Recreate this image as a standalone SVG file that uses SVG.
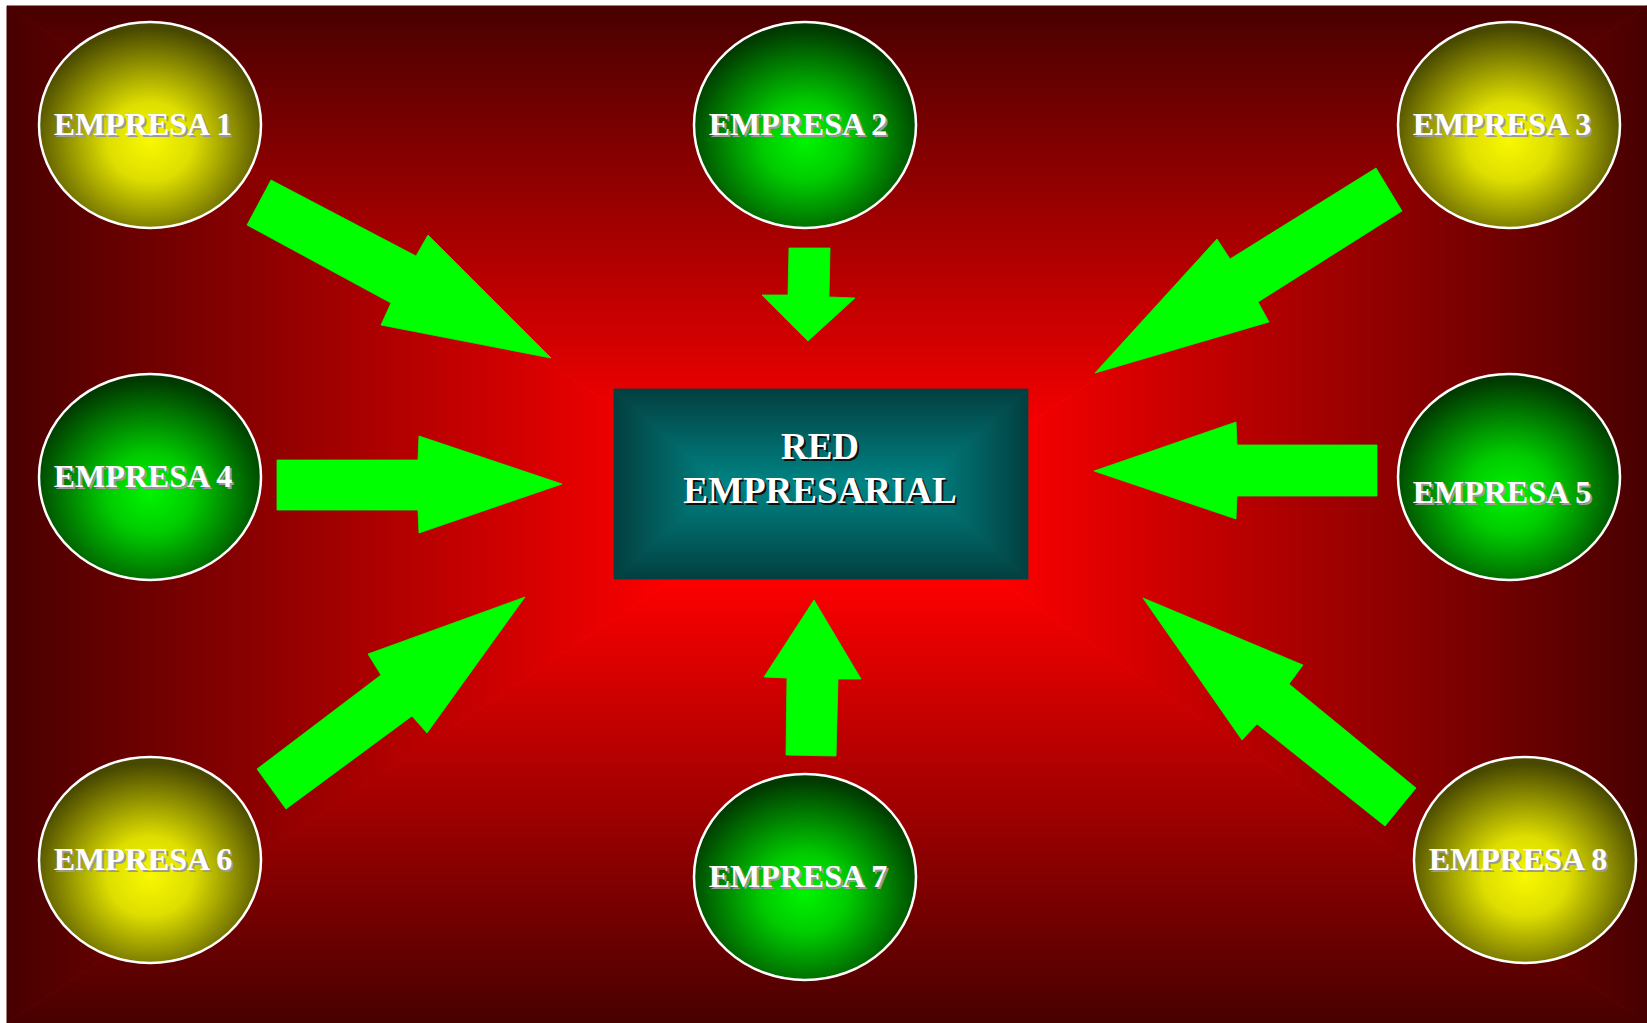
<svg xmlns="http://www.w3.org/2000/svg" width="1647" height="1023" viewBox="0 0 1647 1023">
  <defs>
    <!-- background: rectangular path gradient built from four wedges around a bright core -->
    <linearGradient id="bgL" gradientUnits="userSpaceOnUse" x1="680" y1="0" x2="7" y2="0">
      <stop offset="0" stop-color="#ff0000"/><stop offset="1" stop-color="#480000"/>
    </linearGradient>
    <linearGradient id="bgR" gradientUnits="userSpaceOnUse" x1="990" y1="0" x2="1647" y2="0">
      <stop offset="0" stop-color="#ff0000"/><stop offset="1" stop-color="#480000"/>
    </linearGradient>
    <linearGradient id="bgT" gradientUnits="userSpaceOnUse" x1="0" y1="450" x2="0" y2="6">
      <stop offset="0" stop-color="#ff0000"/><stop offset="1" stop-color="#480000"/>
    </linearGradient>
    <linearGradient id="bgB" gradientUnits="userSpaceOnUse" x1="0" y1="575" x2="0" y2="1023">
      <stop offset="0" stop-color="#ff0000"/><stop offset="1" stop-color="#480000"/>
    </linearGradient>

    <!-- central box: teal rectangular gradient -->
    <linearGradient id="tlL" gradientUnits="userSpaceOnUse" x1="720" y1="0" x2="614" y2="0">
      <stop offset="0" stop-color="#008484"/><stop offset="1" stop-color="#033f40"/>
    </linearGradient>
    <linearGradient id="tlR" gradientUnits="userSpaceOnUse" x1="922" y1="0" x2="1028" y2="0">
      <stop offset="0" stop-color="#008484"/><stop offset="1" stop-color="#033f40"/>
    </linearGradient>
    <linearGradient id="tlT" gradientUnits="userSpaceOnUse" x1="0" y1="484" x2="0" y2="389">
      <stop offset="0" stop-color="#008484"/><stop offset="1" stop-color="#033f40"/>
    </linearGradient>
    <linearGradient id="tlB" gradientUnits="userSpaceOnUse" x1="0" y1="484" x2="0" y2="579">
      <stop offset="0" stop-color="#008484"/><stop offset="1" stop-color="#033f40"/>
    </linearGradient>

    <radialGradient id="yellowBall" cx="0.5" cy="0.58" r="0.55">
      <stop offset="0" stop-color="#f8f800"/>
      <stop offset="0.35" stop-color="#dede00"/>
      <stop offset="1" stop-color="#484800"/>
    </radialGradient>
    <radialGradient id="greenBall" cx="0.5" cy="0.58" r="0.55">
      <stop offset="0" stop-color="#00f400"/>
      <stop offset="0.35" stop-color="#00cc00"/>
      <stop offset="1" stop-color="#003a00"/>
    </radialGradient>

    <style>
      .ball { stroke: #ffffff; stroke-width: 2.5; }
      .yel { fill: url(#yellowBall); }
      .grn { fill: url(#greenBall); }
      .lbl { font-family: "Liberation Serif", "Times New Roman", serif; font-weight: bold; font-size: 32px; text-anchor: middle; }
      .lbl-sh { fill: #9a9a9a; }
      .lbl-fg { fill: #ffffff; }
      .ttl { font-family: "Liberation Serif", "Times New Roman", serif; font-weight: bold; font-size: 37px; text-anchor: middle; }
      .ttl-sh { fill: #101010; }
      .ttl-fg { fill: #ffffff; }
      .arrow { fill: #00ff00; stroke: #00ff00; stroke-width: 0.8; stroke-linejoin: round; }
    </style>
  </defs>

  <rect x="0" y="0" width="1647" height="1023" fill="#ffffff"/>

  <g id="background">
    <rect x="680" y="450" width="310" height="125" fill="#ff0000"/>
    <polygon points="7,6 680,450 680,575 7,1023" fill="url(#bgL)" stroke="url(#bgL)" stroke-width="1"/>
    <polygon points="1647,6 990,450 990,575 1647,1023" fill="url(#bgR)" stroke="url(#bgR)" stroke-width="1"/>
    <polygon points="7,6 1647,6 990,450 680,450" fill="url(#bgT)" stroke="url(#bgT)" stroke-width="1"/>
    <polygon points="7,1023 1647,1023 990,575 680,575" fill="url(#bgB)" stroke="url(#bgB)" stroke-width="1"/>
  </g>

  <g id="connectors">
    <!-- EMPRESA 1 -> center -->
    <polygon class="arrow" points="271,180 416,256 428,235 551,358 381,325 391,303 247,225"/>
    <!-- EMPRESA 2 -> center -->
    <polygon class="arrow" points="789,248 830,248 829,297 855,298 808,341 762,295 788,295"/>
    <!-- EMPRESA 3 -> center -->
    <polygon class="arrow" points="1376,168 1402,211 1258,302 1269,322 1095,373 1217,239 1230,259"/>
    <!-- EMPRESA 4 -> center -->
    <polygon class="arrow" points="277,460 418,460 419,436 562,484 419,533 418,510 277,510"/>
    <!-- EMPRESA 5 -> center -->
    <polygon class="arrow" points="1094,471 1236,422 1237,445 1377,445 1377,496 1237,496 1236,519"/>
    <!-- EMPRESA 6 -> center -->
    <polygon class="arrow" points="525,597 427,733 412,716 286,809 257,769 381,675 368,654"/>
    <!-- EMPRESA 7 -> center -->
    <polygon class="arrow" points="814,600 861,679 838,679 836,756 786,755 787,678 764,677"/>
    <!-- EMPRESA 8 -> center -->
    <polygon class="arrow" points="1143,598 1303,665 1289,684 1416,788 1385,826 1257,724 1242,740"/>
  </g>

  <g id="red-empresarial">
    <polygon points="614,389 720,484 614,579" fill="url(#tlL)" stroke="url(#tlL)" stroke-width="0.8"/>
    <polygon points="1028,389 922,484 1028,579" fill="url(#tlR)" stroke="url(#tlR)" stroke-width="0.8"/>
    <polygon points="614,389 1028,389 922,484 720,484" fill="url(#tlT)" stroke="url(#tlT)" stroke-width="0.8"/>
    <polygon points="614,579 1028,579 922,484 720,484" fill="url(#tlB)" stroke="url(#tlB)" stroke-width="0.8"/>
    <text class="ttl ttl-sh" x="822" y="461">RED</text>
    <text class="ttl ttl-fg" x="820" y="459">RED</text>
    <text class="ttl ttl-sh" x="822" y="505">EMPRESARIAL</text>
    <text class="ttl ttl-fg" x="820" y="503">EMPRESARIAL</text>
  </g>

  <g id="empresa-1">
    <ellipse class="ball yel" cx="150" cy="125" rx="111" ry="103"/>
    <text class="lbl lbl-sh" x="145" y="137">EMPRESA 1</text>
    <text class="lbl lbl-fg" x="143" y="135">EMPRESA 1</text>
  </g>
  <g id="empresa-2">
    <ellipse class="ball grn" cx="805" cy="125" rx="111" ry="103"/>
    <text class="lbl lbl-sh" x="800" y="137">EMPRESA 2</text>
    <text class="lbl lbl-fg" x="798" y="135">EMPRESA 2</text>
  </g>
  <g id="empresa-3">
    <ellipse class="ball yel" cx="1509" cy="125" rx="111" ry="103"/>
    <text class="lbl lbl-sh" x="1504" y="137">EMPRESA 3</text>
    <text class="lbl lbl-fg" x="1502" y="135">EMPRESA 3</text>
  </g>
  <g id="empresa-4">
    <ellipse class="ball grn" cx="150" cy="477" rx="111" ry="103"/>
    <text class="lbl lbl-sh" x="145" y="489">EMPRESA 4</text>
    <text class="lbl lbl-fg" x="143" y="487">EMPRESA 4</text>
  </g>
  <g id="empresa-5">
    <ellipse class="ball grn" cx="1509" cy="477" rx="111" ry="103"/>
    <text class="lbl lbl-sh" x="1504" y="505">EMPRESA 5</text>
    <text class="lbl lbl-fg" x="1502" y="503">EMPRESA 5</text>
  </g>
  <g id="empresa-6">
    <ellipse class="ball yel" cx="150" cy="860" rx="111" ry="103"/>
    <text class="lbl lbl-sh" x="145" y="872">EMPRESA 6</text>
    <text class="lbl lbl-fg" x="143" y="870">EMPRESA 6</text>
  </g>
  <g id="empresa-7">
    <ellipse class="ball grn" cx="805" cy="877" rx="111" ry="103"/>
    <text class="lbl lbl-sh" x="800" y="889">EMPRESA 7</text>
    <text class="lbl lbl-fg" x="798" y="887">EMPRESA 7</text>
  </g>
  <g id="empresa-8">
    <ellipse class="ball yel" cx="1525" cy="860" rx="111" ry="103"/>
    <text class="lbl lbl-sh" x="1520" y="872">EMPRESA 8</text>
    <text class="lbl lbl-fg" x="1518" y="870">EMPRESA 8</text>
  </g>
</svg>
